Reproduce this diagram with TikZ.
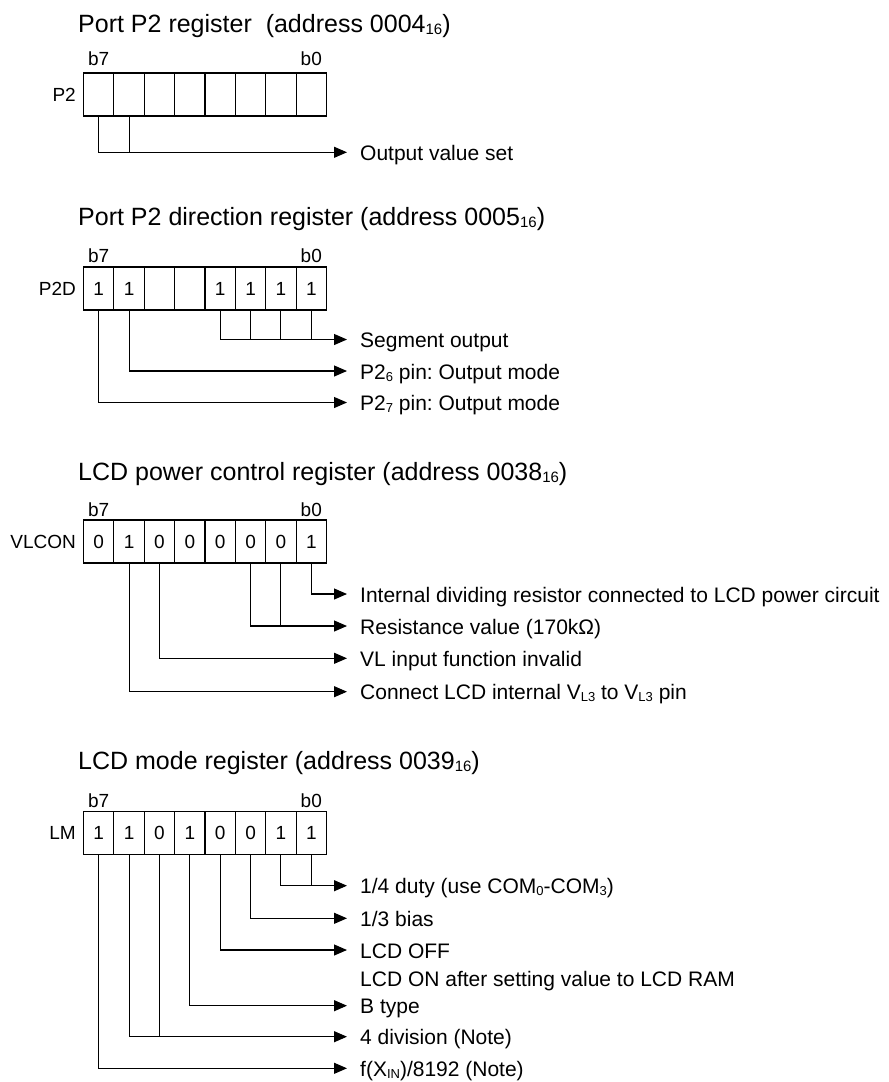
\documentclass[tikz,border=0pt]{standalone}
\usepackage{fontspec}
\setmainfont{Liberation Sans}
\usetikzlibrary{arrows.meta}
\newcommand\tsub[1]{\raisebox{-2pt}{\fontsize{15}{15}\selectfont #1}}
\newcommand\lsub[1]{\raisebox{-2pt}{\fontsize{13}{13}\selectfont #1}}
\frenchspacing
\begin{document}
\begin{tikzpicture}[x=1pt,y=1pt,
  cell/.style={draw, line width=1.1pt, minimum width=30.375pt, minimum height=43pt, inner sep=0pt, outer sep=0pt, font=\fontsize{19}{19}\selectfont},
  regname/.style={anchor=east, inner sep=0pt, font=\fontsize{19}{19}\selectfont},
  bitlbl/.style={anchor=base, inner sep=0pt, font=\fontsize{19}{19}\selectfont},
  ttl/.style={anchor=base west, inner sep=0pt, font=\fontsize{25}{25}\selectfont},
  lbl/.style={anchor=base west, inner sep=0pt, font=\fontsize{21}{21}\selectfont},
  conn/.style={line width=1.1pt},
  arr/.style={line width=1.1pt, -{Triangle[length=13pt,width=11pt]}}
]
\useasboundingbox (0,0) rectangle (889,-1082);

% ---------- Port P2 register ----------
\node[ttl] (p2t) at (78,-32) {Port P2 register\ \ (address 0004\tsub{16})};
\foreach \i in {0,...,7}
  \node[cell] (p2c\i) at ({83.5+30.375*(\i+0.5)},-94.5) {};
\node[regname] (p2n) at (76,-94.5) {P2};
\node[bitlbl] (p2b7) at (98.7,-65) {b7};
\node[bitlbl] (p2b0) at (311.3,-65) {b0};
\coordinate (p2a) at (347,-152.3);
\draw[arr] (p2c0.south) |- (p2a);
\draw[conn] (p2c1.south) -- (p2c1.south |- p2a);
\node[lbl] (p2l) at (360,-160.3) {Output value set};

% ---------- Port P2 direction register ----------
\node[ttl] (pdt) at (78,-225) {Port P2 direction register (address 0005\tsub{16})};
\foreach \v [count=\i from 0] in {1,1,{},{},1,1,1,1}
  \node[cell] (pdc\i) at ({83.5+30.375*(\i+0.5)},-288.5) {\v};
\node[regname] (pdn) at (76,-288.5) {P2D};
\node[bitlbl] (pdb7) at (98.7,-262.7) {b7};
\node[bitlbl] (pdb0) at (311.3,-262.7) {b0};
\coordinate (pda1) at (347,-339.5);
\coordinate (pda2) at (347,-371);
\coordinate (pda3) at (347,-402.5);
\draw[arr] (pdc4.south) |- (pda1);
\foreach \i in {5,6,7}
  \draw[conn] (pdc\i.south) -- (pdc\i.south |- pda1);
\draw[arr] (pdc1.south) |- (pda2);
\draw[arr] (pdc0.south) |- (pda3);
\node[lbl] (pdl1) at (360,-347.5) {Segment output};
\node[lbl] (pdl2) at (360,-379) {P2\lsub{6} pin: Output mode};
\node[lbl] (pdl3) at (360,-410.5) {P2\lsub{7} pin: Output mode};

% ---------- LCD power control register ----------
\node[ttl] (vlt) at (78,-480) {LCD power control register (address 0038\tsub{16})};
\foreach \v [count=\i from 0] in {0,1,0,0,0,0,0,1}
  \node[cell] (vlc\i) at ({83.5+30.375*(\i+0.5)},-541.5) {\v};
\node[regname] (vln) at (76,-541.5) {VLCON};
\node[bitlbl] (vlb7) at (98.7,-516.7) {b7};
\node[bitlbl] (vlb0) at (311.3,-516.7) {b0};
\coordinate (vla1) at (347,-594);
\coordinate (vla2) at (347,-626);
\coordinate (vla3) at (347,-658.3);
\coordinate (vla4) at (347,-691.7);
\draw[arr] (vlc7.south) |- (vla1);
\draw[arr] (vlc5.south) |- (vla2);
\draw[conn] (vlc6.south) -- (vlc6.south |- vla2);
\draw[arr] (vlc2.south) |- (vla3);
\draw[arr] (vlc1.south) |- (vla4);
\node[lbl] (vll1) at (360,-602) {Internal dividing resistor connected to LCD power circuit};
\node[lbl] (vll2) at (360,-634) {Resistance value (170kΩ)};
\node[lbl] (vll3) at (360,-666.3) {VL input function invalid};
\node[lbl] (vll4) at (360,-699.7) {Connect LCD internal V\lsub{L3} to V\lsub{L3} pin};

% ---------- LCD mode register ----------
\node[ttl] (lmt) at (78,-769.3) {LCD mode register (address 0039\tsub{16})};
\foreach \v [count=\i from 0] in {1,1,0,1,0,0,1,1}
  \node[cell] (lmc\i) at ({83.5+30.375*(\i+0.5)},-833) {\v};
\node[regname] (lmn) at (76,-833) {LM};
\node[bitlbl] (lmb7) at (98.7,-807.7) {b7};
\node[bitlbl] (lmb0) at (311.3,-807.7) {b0};
\coordinate (lma1) at (347,-885.7);
\coordinate (lma2) at (347,-918.3);
\coordinate (lma3) at (347,-950);
\coordinate (lma4) at (347,-1005.7);
\coordinate (lma5) at (347,-1036.7);
\coordinate (lma6) at (347,-1068.3);
\draw[arr] (lmc6.south) |- (lma1);
\draw[conn] (lmc7.south) -- (lmc7.south |- lma1);
\draw[arr] (lmc5.south) |- (lma2);
\draw[arr] (lmc4.south) |- (lma3);
\draw[arr] (lmc3.south) |- (lma4);
\draw[arr] (lmc1.south) |- (lma5);
\draw[conn] (lmc2.south) -- (lmc2.south |- lma5);
\draw[arr] (lmc0.south) |- (lma6);
\node[lbl] (lml1) at (360,-893.7) {1/4 duty (use COM\lsub{0}-COM\lsub{3})};
\node[lbl] (lml2) at (360,-926.3) {1/3 bias};
\node[lbl] (lml3) at (360,-958) {LCD OFF};
\node[lbl] (lml3b) at (360,-986.7) {LCD ON after setting value to LCD RAM};
\node[lbl] (lml4) at (360,-1013.7) {B type};
\node[lbl] (lml5) at (360,-1044.7) {4 division (Note)};
\node[lbl] (lml6) at (360,-1076.3) {f(X\lsub{IN})/8192 (Note)};
\end{tikzpicture}
\end{document}
